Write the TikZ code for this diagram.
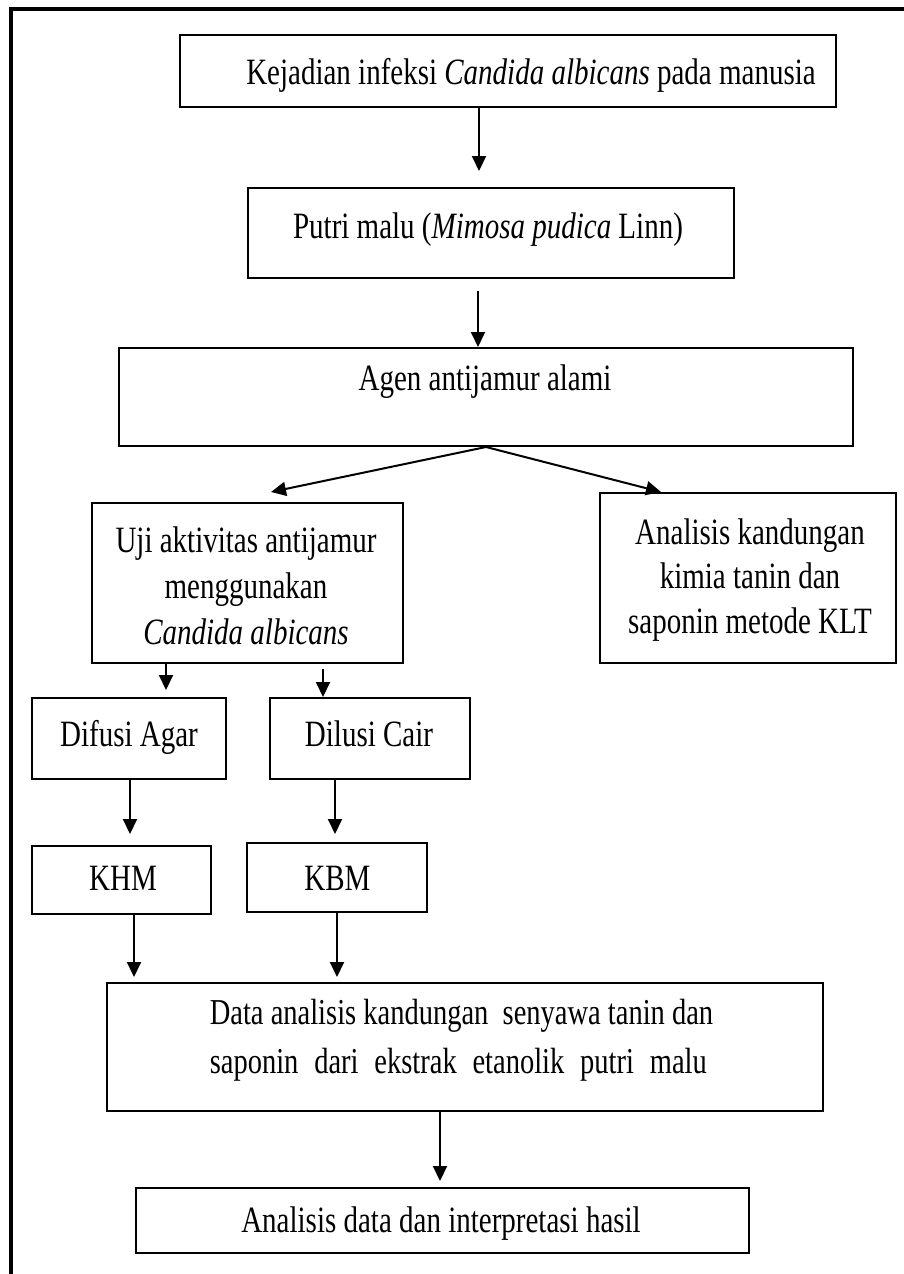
\documentclass[tikz,border=0pt]{standalone}
\usepackage{fontspec}
\setmainfont{Liberation Serif}
\usepackage{graphicx}
\usetikzlibrary{arrows.meta,calc}
\newcommand{\ml}[2][36]{\scalebox{1}[1.28]{\fontsize{29}{#1}\selectfont\begin{tabular}{@{}c@{}}#2\end{tabular}}}
\tikzset{
  box/.style={draw, line width=2pt, inner sep=0pt},
  txt/.style={inner sep=0pt},
  arr/.style={line width=2pt, -{Triangle[length=15pt,width=14pt]}},
}
\begin{document}
\begin{tikzpicture}[x=1pt,y=-1pt]
\useasboundingbox (0,0) rectangle (904,1274);
\draw[line width=4pt] (11,1280) -- (11,9) -- (910,9);
% boxes
\node[box, minimum width=656, minimum height=72] (b1) at (508,71) {};
\node[box, minimum width=486, minimum height=90] (b2) at (491,233) {};
\node[box, minimum width=734, minimum height=98] (b3) at (486,397) {};
\node[box, minimum width=311, minimum height=160] (b4) at (247.5,583) {};
\node[box, minimum width=296, minimum height=170] (b5) at (748,578) {};
\node[box, minimum width=194, minimum height=81] (b6) at (129,738.5) {};
\node[box, minimum width=200, minimum height=81] (b7) at (370,738.5) {};
\node[box, minimum width=179, minimum height=68] (b8) at (121.5,880) {};
\node[box, minimum width=180, minimum height=69] (b9) at (337,877.5) {};
\node[box, minimum width=716, minimum height=128] (b10) at (465,1047) {};
\node[box, minimum width=613, minimum height=65] (b11) at (442.5,1220.5) {};
% texts
\node[txt] (t1) at (531,75) {\ml{Kejadian infeksi \textit{Candida albicans} pada manusia}};
\node[txt] (t2) at (488,229) {\ml{Putri malu (\textit{Mimosa pudica} Linn)}};
\node[txt] (t3) at (485,381) {\ml{Agen antijamur alami}};
\node[txt] (t4) at (246,589) {\ml{Uji aktivitas antijamur\\menggunakan\\\textit{Candida albicans}}};
\node[txt] (t5) at (750,580) {\ml[35]{Analisis kandungan\\kimia tanin dan\\saponin metode KLT}};
\node[txt] (t6) at (129,737) {\ml{Difusi Agar}};
\node[txt] (t7) at (369,737) {\ml{Dilusi Cair}};
\node[txt] (t8) at (123,881) {\ml{KHM}};
\node[txt] (t9) at (337.5,881) {\ml{KBM}};
\node[txt] (t10) at (461.5,1039) {\scalebox{1}[1.28]{\fontsize{28.5}{39}\selectfont\begin{tabular}{@{}l@{}}Data analisis kandungan \ senyawa tanin dan\\\makebox[497pt][s]{saponin dari ekstrak etanolik putri malu}\end{tabular}}};
\node[txt] (t11) at (441,1223) {\ml{Analisis data dan interpretasi hasil}};
% connectors
\draw[arr, shorten >=16pt] (b1.south -| 479,0) -- (b2.north -| 479,0);
\draw[arr, shorten <=12pt] (b2.south -| 478,0) -- (b3.north -| 478,0);
\draw[arr] (b3.south) -- ($(b4.north west)+(180,-10)$);
\draw[arr] (b3.south) -- ($(b5.north west)+(62,0)$);
\draw[arr, shorten >=7pt] (b4.south -| 166,0) -- (b6.north -| 166,0);
\draw[arr, shorten <=5pt] (b4.south -| 323,0) -- (b7.north -| 323,0);
\draw[arr, shorten >=11pt] (b6.south -| 130,0) -- (b8.north -| 130,0);
\draw[arr, shorten >=8pt] (b7.south -| 335,0) -- (b9.north -| 335,0);
\draw[arr, shorten >=5pt] (b8.south -| 134,0) -- (b10.north -| 134,0);
\draw[arr, shorten >=5pt] (b9.south -| 337,0) -- (b10.north -| 337,0);
\draw[arr, shorten >=6pt] (b10.south -| 440,0) -- (b11.north -| 440,0);
\end{tikzpicture}
\end{document}
